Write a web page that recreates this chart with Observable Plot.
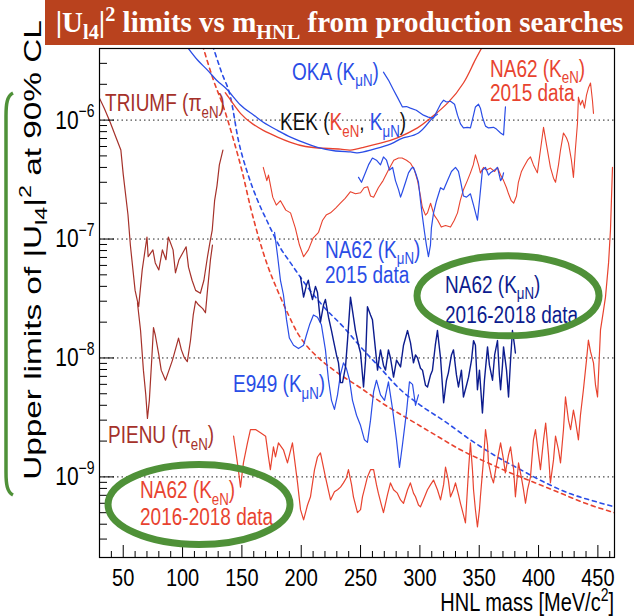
<!DOCTYPE html>
<html><head><meta charset="utf-8">
<script src="https://cdn.jsdelivr.net/npm/d3@7"></script>
<script src="https://cdn.jsdelivr.net/npm/@observablehq/plot@0.6"></script>
<style>
html,body{margin:0;padding:0;background:#fff;}
#wrap{position:relative;width:634px;height:616px;overflow:hidden;}
#title{position:absolute;left:45px;top:0;width:589px;height:45px;background:#b9421e;color:#fff;
 font:bold 29px "Liberation Serif","Times New Roman",serif;text-align:center;line-height:45px;white-space:nowrap;}
#title sub,#title sup{font-size:70%;line-height:0;}
</style></head><body>
<div id="wrap"><div id="chart"></div>
<div id="title">|U<sub>l4</sub>|<sup>2</sup> limits vs m<sub>HNL</sub> from production searches</div></div>
<script>
// ---------- data: [HNL mass (MeV/c^2), upper limit on |U_l4|^2] ----------
const triumf = [[30,1.53e-6],[34,1.26e-6],[39,9.6e-7],[44,7.1e-7],[48,5.6e-7],[50,3.5e-7],[54,1.6e-7],[56,8.9e-8],[60,3.7e-8],[63,2.7e-8],[66,5.5e-8],[70,1.04e-7],[71,7.1e-8],[75,8.1e-8],[77,6.3e-8],[80,5.5e-8],[83,8.1e-8],[86,6.7e-8],[88,1.04e-7],[92,8.1e-8],[94,5.2e-8],[97,6.7e-8],[100,7.6e-8],[103,8.6e-8],[105,5.8e-8],[108,4.5e-8],[111,3.7e-8],[115,3.5e-8],[118,4.5e-8],[121,7.1e-8],[123,9.3e-8],[125,1.19e-7],[127,2.1e-7],[129,2.8e-7],[131,4.2e-7],[134,5.6e-7]];
const pienu = [[62,2.9e-8],[64.6,1.7e-8],[67,7.9e-9],[69,4.9e-9],[70.4,3.1e-9],[72,4.4e-9],[74,9.6e-9],[75.5,1.8e-8],[77,1.56e-8],[80,1.06e-8],[82,7.9e-9],[85.6,6.5e-9],[88,7.6e-9],[91.5,9.6e-9],[95,1.28e-8],[96.6,1.47e-8],[99,1.17e-8],[101.6,1.0e-8],[104,9.3e-9],[106.7,1.41e-8],[109,2.3e-8],[111,3.0e-8],[113.4,2.8e-8],[117,2.6e-8],[119.3,2.4e-8],[121,3.7e-8],[123.5,6.7e-8],[125.2,8.9e-8]];
const na62Ke2015 = [[168,4.0e-7],[171,3.1e-7],[172.4,3.45e-7],[176,2.25e-7],[179,1.93e-7],[182.5,2.1e-7],[187,1.75e-7],[191,1.66e-7],[195,1.24e-7],[198.5,8.9e-8],[202,7.1e-8],[206,8.1e-8],[210,1.02e-7],[214.6,1.14e-7],[218,1.44e-7],[221,1.59e-7],[224.7,1.66e-7],[229,1.82e-7],[233,2.0e-7],[237,2.2e-7],[241.5,2.5e-7],[245.7,2.4e-7],[250,2.45e-7],[253,2.7e-7],[256,2.75e-7],[258.4,2.3e-7],[261,2.25e-7],[265,2.7e-7],[269,3.1e-7],[273.5,3.8e-7],[278,4.6e-7],[282,4.8e-7],[285,4.8e-7],[288.7,4.6e-7],[292,4.35e-7],[295.4,3.8e-7],[298,3.1e-7],[300.5,2.3e-7],[302,1.86e-7],[304.7,1.59e-7],[306.4,1.66e-7],[309,2.0e-7],[312,1.59e-7],[315,1.44e-7],[318,1.26e-7],[321.6,1.3e-7],[325.8,1.26e-7],[329,1.44e-7],[331.7,1.66e-7],[334,2.1e-7],[336.7,2.6e-7],[340,3.1e-7],[342.6,3.6e-7],[345,4.2e-7],[346.8,5.1e-7],[349.4,4.2e-7],[351,3.6e-7],[353.6,4.0e-7],[356,3.8e-7],[359.5,3.95e-7],[363,3.7e-7],[365.4,4.0e-7],[368,3.45e-7],[370.5,3.1e-7],[373,2.7e-7],[374.7,2.4e-7],[377,2.1e-7],[379,2.0e-7],[381.4,2.3e-7],[383,3.0e-7],[385.6,3.7e-7],[387.3,4.0e-7],[390.7,4.6e-7],[393.2,4.9e-7],[395.7,4.2e-7],[399,3.6e-7],[401.6,5.6e-7],[404.2,8.7e-7],[406.7,6.2e-7],[410,4.0e-7],[412.6,3.25e-7],[414.3,3.0e-7],[416.8,4.2e-7],[418.5,5.6e-7],[421,7.8e-7],[423.5,7.1e-7],[425.2,6.4e-7],[427.7,4.6e-7],[429.4,3.3e-7],[431,5.6e-7],[432.8,9.4e-7],[433.6,1.56e-6],[435.3,1.34e-6],[437,1.47e-6],[438.7,1.26e-6],[440.4,1.62e-6],[442,1.86e-6],[443.8,2.05e-6],[445.4,1.47e-6],[446.3,1.14e-6]];
const kekE = [[136,1.7e-6],[138.7,1.56e-6],[148.8,1.14e-6],[159,9.3e-7],[168,8.2e-7],[180,7.2e-7],[191,6.5e-7],[203.6,6.0e-7],[218.8,5.8e-7],[233,5.7e-7],[241.5,5.6e-7],[252.5,5.9e-7],[266.8,6.4e-7],[281,7.1e-7],[298,8.6e-7],[309,1.04e-6],[323.3,1.39e-6],[336.7,2.05e-6],[345.2,3.0e-6],[353,4.2e-6]];
const kekMu = [[103.3,4.2e-6],[112.6,3.2e-6],[121,2.63e-6],[129.4,2.13e-6],[137.9,1.79e-6],[148.8,1.34e-6],[159,1.12e-6],[168,9.6e-7],[180,8.2e-7],[191,7.2e-7],[203.6,6.4e-7],[213.7,5.9e-7],[229,5.5e-7],[241.5,5.4e-7],[247.4,5.3e-7],[258.4,5.6e-7],[266.8,5.9e-7],[277,6.4e-7],[286,7.1e-7],[298.8,7.8e-7],[309,1.0e-6],[314.8,1.12e-6]];
const oka = [[269.3,2.53e-6],[273.5,2.17e-6],[277.8,1.79e-6],[281,1.56e-6],[285.3,1.29e-6],[288.7,1.3e-6],[292,1.26e-6],[297,1.21e-6],[303,1.1e-6],[307,1.06e-6],[311.5,1.04e-6],[314.8,1.21e-6],[317.4,1.36e-6],[320,1.47e-6],[322.4,1.42e-6],[325.8,1.44e-6],[329.2,1.36e-6],[331.7,1.1e-6],[334.2,9.3e-7],[336.7,8.6e-7],[340,8.7e-7],[342.6,8.6e-7],[345.2,1.1e-6],[346.8,1.29e-6],[349.4,1.36e-6],[351,1.26e-6],[352.7,1.06e-6],[355.3,8.9e-7],[357.8,8.6e-7],[362,8.7e-7],[364.5,8.4e-7],[368,7.8e-7],[370.5,7.5e-7],[371.3,1.0e-6],[372.1,1.29e-6]];
const na62Mu2015 = [[248.3,3.3e-7],[250.8,3.0e-7],[253.3,3.45e-7],[256.7,4.2e-7],[260,4.8e-7],[263.4,4.6e-7],[266.8,4.2e-7],[269.3,4.9e-7],[271.9,4.6e-7],[274.4,3.8e-7],[277,4.0e-7],[279.4,3.1e-7],[282,2.6e-7],[283.7,2.25e-7],[285.3,2.5e-7],[287.9,3.0e-7],[290.4,3.6e-7],[293,3.95e-7],[294.6,4.0e-7],[297,3.45e-7],[298.8,3.0e-7],[300.5,2.1e-7],[302.2,1.53e-7],[303.9,1.14e-7],[305.5,8.9e-8],[307.2,7.1e-8],[308.9,8.9e-8],[309.7,1.24e-7],[311.5,1.66e-7],[314,2.1e-7],[317.4,2.7e-7],[320,2.6e-7],[323.3,3.1e-7],[326.6,3.7e-7],[330,4.0e-7],[332.5,3.7e-7],[334.2,3.1e-7],[336.7,2.3e-7],[339.3,2.25e-7],[342.6,2.4e-7],[345.2,1.93e-7],[348.5,1.44e-7],[350.2,2.1e-7],[352.7,3.8e-7],[355.3,4.0e-7],[357.8,3.45e-7],[359.5,3.6e-7],[363,3.8e-7],[365.4,4.0e-7],[368,3.1e-7],[369.6,3.3e-7],[370.5,3.6e-7]];
const e949 = [[177.5,1.14e-7],[180,7.3e-8],[182.5,4.5e-8],[185,3.4e-8],[187.6,2.1e-8],[190,1.47e-8],[193.5,1.28e-8],[197.7,1.2e-8],[202,1.28e-8],[204.4,1.56e-8],[207,1.9e-8],[210.3,2.3e-8],[213.7,2.2e-8],[217,1.9e-8],[220.4,1.17e-8],[223,6.5e-9],[225.5,4.4e-9],[228,3.7e-9],[230.6,4.9e-9],[233,7.2e-9],[235.6,9.1e-9],[238,8.2e-9],[240.7,6.5e-9],[243.2,4.4e-9],[246.6,3.3e-9],[250,2.7e-9],[253.3,2.05e-9],[255.8,1.95e-9],[258.4,3.0e-9],[261,5.2e-9],[263.4,6.5e-9],[266.8,4.9e-9],[270.2,4.4e-9],[273.5,6.3e-9],[277,3.7e-9],[280.3,2.05e-9],[282.8,1.2e-9],[285.3,1.86e-9],[288.7,3.5e-9],[291.2,6.3e-9],[293.8,6.0e-9],[296.3,4.0e-9],[298.8,4.9e-9]];
const na62Mu1618 = [[199.4,4.8e-8],[202,3.25e-8],[204.4,4.1e-8],[206,4.5e-8],[207.8,3.6e-8],[209.5,3.1e-8],[212,4.0e-8],[213.7,3.55e-8],[216.2,2.0e-8],[218.8,2.8e-8],[220.4,3.1e-8],[223,2.2e-8],[225.5,1.7e-8],[227.2,1.4e-8],[229.7,1.06e-8],[231.4,9.1e-9],[233.1,6.2e-9],[234.8,6.2e-9],[237.3,8.4e-9],[239,1.4e-8],[241.5,3.25e-8],[243.2,2.5e-8],[245.7,1.7e-8],[248.3,1.28e-8],[250,1.1e-8],[252.5,5.7e-9],[254.2,9.6e-9],[255.8,2.7e-8],[258.4,2.3e-8],[260,2.1e-8],[262.6,1.17e-8],[264.3,7.9e-9],[266.8,1.17e-8],[269.3,8.7e-9],[271,7.9e-9],[273.5,1.17e-8],[275.2,1.0e-8],[277.8,6.9e-9],[280.3,9.6e-9],[283.7,8.4e-9],[286.2,1.28e-8],[289.6,1.7e-8],[292.1,1.34e-8],[294.6,9.1e-9],[296.3,1.06e-8],[298,1.0e-8],[300.5,8.2e-9],[302.2,7.9e-9],[304.7,5.9e-9],[306.4,5.7e-9],[309,7.2e-9],[310.6,7.9e-9],[313,1.28e-8],[314.8,1.7e-8],[317.4,1.0e-8],[320,4.2e-9],[322.4,6.5e-9],[324,7.5e-9],[326.6,1.06e-8],[328.3,1.17e-8],[330.8,7.2e-9],[332.5,5.7e-9],[335,7.9e-9],[336.7,4.7e-9],[339.3,5.9e-9],[341,6.9e-9],[343.5,9.6e-9],[345.2,1.4e-8],[346.8,1.28e-8],[348.5,5.4e-9],[350.2,7.9e-9],[352.7,3.45e-9],[354.4,6.5e-9],[357,1.24e-8],[358.6,8.7e-9],[361.2,6.5e-9],[363,1.06e-8],[365.4,1.4e-8],[367,7.2e-9],[368,5.4e-9],[369.6,8.7e-9],[370.5,1.24e-8],[373,7.9e-9],[374.7,4.7e-9],[376.4,9.6e-9],[378,1.7e-8],[379.7,1.28e-8],[380.5,1.1e-8]];
const na62Ke1618 = [[143,2.2e-9],[145.4,1.5e-9],[147,1.15e-9],[148.8,8.2e-10],[151.3,1.31e-9],[154.7,1.93e-9],[157.2,2.5e-9],[161.5,2.5e-9],[165.7,2.35e-9],[170,2.2e-9],[172.4,1.47e-9],[174,1.15e-9],[176.6,1.79e-9],[178.3,1.47e-9],[180.8,1.93e-9],[185,1.69e-9],[188.4,1.31e-9],[192.6,1.93e-9],[196.9,8.9e-10],[199.4,5.3e-10],[202,4.35e-10],[205.3,5.8e-10],[207.8,6.8e-10],[211.2,1.15e-9],[213.7,1.47e-9],[216.2,1.59e-9],[220.4,1.0e-9],[224.7,6.4e-10],[228,7.5e-10],[230.6,7.8e-10],[233.1,8.2e-10],[235.6,8.9e-10],[238,9.8e-10],[239.8,1.15e-9],[242.4,8.6e-10],[244,6.8e-10],[247.4,5.0e-10],[250,5.3e-10],[251.6,6.8e-10],[254.2,8.6e-10],[255.8,1.0e-9],[258.4,1.15e-9],[261,1.15e-9],[263.4,8.6e-10],[265,7.3e-10],[267.6,5.8e-10],[269.3,5.0e-10],[272.7,7.1e-10],[275.2,8.9e-10],[277.8,7.8e-10],[281,7.3e-10],[283.7,6.4e-10],[286.2,6.0e-10],[289.6,7.8e-10],[292,8.9e-10],[294.6,7.3e-10],[296.3,6.8e-10],[298.8,5.8e-10],[300.5,5.6e-10],[304,6.8e-10],[306.4,7.8e-10],[309,8.6e-10],[311.5,9.4e-10],[314.8,7.8e-10],[317.4,6.4e-10],[320,8.6e-10],[321.6,1.21e-9],[324,9.4e-10],[325.8,6.8e-10],[328.3,7.8e-10],[330,8.9e-10],[332.5,7.1e-10],[334.2,6.0e-10],[336.7,4.8e-10],[338.4,4.1e-10],[341,1.15e-9],[342.6,1.93e-9],[344.3,1.15e-9],[345.2,7.8e-10],[346.8,5.3e-10],[348.5,3.8e-10],[350.2,5.3e-10],[351,6.8e-10],[353.6,1.39e-9],[355.3,2.5e-9],[357,1.86e-9],[357.8,1.31e-9],[360.3,1.0e-9],[362,8.9e-10],[364.5,1.26e-9],[368,1.93e-9],[370.5,1.39e-9],[372,1.08e-9],[374.7,1.53e-9],[376.4,1.79e-9],[379,1.15e-9],[380.5,6.8e-10],[382.2,1.04e-9],[383.1,1.31e-9],[385.6,9.8e-10],[387.3,7.8e-10],[389,6.0e-10],[390.7,7.8e-10],[393.2,1.0e-9],[395.7,2.05e-9],[397.4,2.5e-9],[400,1.53e-9],[401.6,1.15e-9],[404.2,2.05e-9],[406,2.84e-9],[408.4,1.53e-9],[410,8.9e-10],[412.6,1.39e-9],[414.3,2.2e-9],[416.8,1.69e-9],[418.5,1.31e-9],[421,2.5e-9],[422.7,4.7e-9],[425.2,3.0e-9],[427,2.5e-9],[429.4,3.65e-9],[431,3.0e-9],[433.6,2.05e-9],[435.3,3.3e-9],[437.8,5.4e-9],[440.4,9.6e-9],[442,1.41e-8],[443.8,1.13e-8],[446.3,9.1e-9],[448,5.9e-9],[449.7,4.7e-9],[452.2,1.72e-8],[454.7,2.5e-8],[456.4,3.25e-8],[459,6.3e-8],[460.6,1.19e-7],[461.4,2.1e-7],[462.3,4.0e-7]];
const boundE = [[116.8,4.27e-6],[126,2.17e-6],[134.5,1.29e-6],[143,6.8e-7],[150.5,3.6e-7],[157.2,1.86e-7],[164,1.04e-7],[171.6,6.0e-8],[180,3.7e-8],[188.4,2.4e-8],[196.9,1.62e-8],[205.3,1.24e-8],[213.7,1.02e-8],[230.6,7.5e-9],[250,5.6e-9],[271,4.0e-9],[292,3.0e-9],[313,2.25e-9],[334.2,1.69e-9],[355.3,1.34e-9],[376.4,1.08e-9],[397.4,8.9e-10],[418.5,7.3e-10],[439.5,6.0e-10],[464,5.0e-10]];
const boundMu = [[125.2,4.27e-6],[132.8,2.53e-6],[140.4,1.56e-6],[147,6.8e-7],[154.7,3.6e-7],[163.1,2.13e-7],[171.6,1.39e-7],[182.5,8.4e-8],[191,6.3e-8],[205.3,3.95e-8],[218.8,2.7e-8],[235.6,1.82e-8],[250,1.24e-8],[266.8,8.2e-9],[283.7,5.4e-9],[300.5,4.0e-9],[321.6,2.9e-9],[342.6,2.05e-9],[363.7,1.5e-9],[384.8,1.15e-9],[406,8.9e-10],[427,7.2e-10],[448,6.2e-10],[464,5.6e-10]];

// axis ticks
const xMajor = [50,100,150,200,250,300,350,400,450];
const xMinor = [40,60,70,80,90,110,120,130,140,160,170,180,190,210,220,230,240,260,270,280,290,310,320,330,340,360,370,380,390,410,420,430,440,460];
const yMajor = [1e-9,1e-8,1e-7,1e-6];

// colours
const DARKRED="#a5312a", RED="#e8432f", BLUE="#2a4de6", NAVY="#0c1c8e", GREEN="#4f9138", BLACK="#111";

// annotation texts: [text, colour, "sub"|"sup"]
const labels = [
  {m:35.1, u:1.17e-6, c:DARKRED, parts:[["TRIUMF (π"],["eN",null,"sub"],[")"]]},
  {m:192.6,u:2.17e-6, c:BLUE, parts:[["OKA (K"],["μN",null,"sub"],[")"]]},
  {m:182.5,u:8.2e-7, c:BLACK, parts:[["KEK ("],["K",RED],["eN",RED,"sub"],[", "],["K",BLUE],["μN",BLUE,"sub"],[")"]]},
  {m:359.5,u:2.3e-6, c:RED, parts:[["NA62 (K"],["eN",null,"sub"],[")"]]},
  {m:359.5,u:1.44e-6, c:RED, parts:[["2015 data"]]},
  {m:220.4,u:6.9e-8, c:BLUE, parts:[["NA62 (K"],["μN",null,"sub"],[")"]]},
  {m:220.4,u:4.2e-8, c:BLUE, parts:[["2015 data"]]},
  {m:142.9,u:5.1e-9, c:BLUE, parts:[["E949 (K"],["μN",null,"sub"],[")"]]},
  {m:37.6, u:1.9e-9, c:DARKRED, parts:[["PIENU (π"],["eN",null,"sub"],[")"]]},
  {m:64.6, u:6.6e-10, c:RED, parts:[["NA62 (K"],["eN",null,"sub"],[")"]]},
  {m:64.6, u:3.9e-10, c:RED, parts:[["2016-2018 data"]]},
  {m:321.6,u:3.5e-8, c:NAVY, parts:[["NA62 (K"],["μN",null,"sub"],[")"]]},
  {m:321.6,u:1.95e-8, c:NAVY, parts:[["2016-2018 data"]]}
];
const highlights = [{m:114.3,u:5.8e-10},{m:374.7,u:3.3e-8}];

// ---------- layout ----------
const W=634,H=616,ML=99,MR=20,MT=48,MB=59;
const FH=H-MT-MB, FW=W-ML-MR;
const K=1.25; // vertical stretch of the original canvas text
const FONT='"Liberation Sans", Arial, Helvetica, sans-serif';

const yMinor=[];
for (let e=-10;e<=-6;e++) for (let k=2;k<=9;k++){const v=k*Math.pow(10,e); if(v>2.1e-10&&v<4e-6) yMinor.push(v);}

const series = [
  {d:boundE, c:RED, w:1.6, dash:"4,4", curve:"monotone-x"},
  {d:boundMu, c:BLUE, w:1.6, dash:"4,4", curve:"monotone-x"},
  {d:kekE, c:RED, w:1.3, curve:"natural"},
  {d:kekMu, c:BLUE, w:1.3, curve:"natural"},
  {d:triumf, c:DARKRED, w:1.2},
  {d:pienu, c:DARKRED, w:1.2},
  {d:na62Ke2015, c:RED, w:1.1},
  {d:oka, c:BLUE, w:1.2},
  {d:na62Mu2015, c:BLUE, w:1.2},
  {d:e949, c:BLUE, w:1.2},
  {d:na62Ke1618, c:RED, w:1.2},
  {d:na62Mu1618, c:NAVY, w:1.4}
];

const plot = Plot.plot({
  width:W, height:H, marginLeft:ML, marginRight:MR, marginTop:MT, marginBottom:MB,
  style:{fontFamily:FONT, background:"transparent", color:"#000"},
  x:{domain:[30,464]},
  y:{type:"log", domain:[2.1e-10,4e-6]},
  marks:[
    Plot.ruleY(yMajor,{y:d=>d, stroke:"#222", strokeDasharray:"1.5,3", strokeWidth:1}),
    ...series.map(s=>Plot.line(s.d,{x:d=>d[0], y:d=>d[1], stroke:s.c, strokeWidth:s.w, strokeDasharray:s.dash, curve:s.curve||"linear", clip:true})),
    Plot.ruleX(xMinor,{x:d=>d, insetTop:FH-6, stroke:"#000"}),
    Plot.ruleX(xMajor,{x:d=>d, insetTop:FH-12, stroke:"#000"}),
    Plot.ruleY(yMinor,{y:d=>d, insetRight:FW-8, stroke:"#000"}),
    Plot.ruleY(yMajor,{y:d=>d, insetRight:FW-15, stroke:"#000"}),
    Plot.frame({stroke:"#000", strokeWidth:1.2}),
    Plot.axisX({ticks:xMajor, tickSize:0, tickPadding:11, fontSize:20, label:null}),
    Plot.axisY({ticks:yMajor, tickSize:0, tickPadding:5, fontSize:21, label:null,
      tickFormat:d=>"10^"+Math.round(Math.log10(d))})
  ]
});
document.getElementById("chart").appendChild(plot);

const xs=plot.scale("x"), ys=plot.scale("y");
const svg=d3.select(plot);

function stretch(node,k){
  const t=node.getAttribute("transform")||"";
  node.setAttribute("transform",t+` scale(1,${k})`);
}
// y tick labels as 10^n with superscript
svg.selectAll('g[aria-label="y-axis tick label"] text').each(function(){
  const s=this.textContent; const e=s.split("^")[1];
  if(e===undefined) return;
  const t=d3.select(this); t.text("");
  t.append("tspan").text("10");
  t.append("tspan").attr("dy",-9).attr("font-size",14).text("−"+String(Math.abs(+e)));
  stretch(this,K);
});
svg.selectAll('g[aria-label="x-axis tick label"] text').each(function(){stretch(this,1.2);});

const g=svg.append("g").attr("font-family",FONT).attr("text-anchor","start");
function richText(parent,x,y,fs,color,parts,transformExtra){
  const t=parent.append("text").attr("transform",`translate(${x},${y}) `+(transformExtra||`scale(1,${K})`))
    .attr("font-size",fs).attr("fill",color).attr("text-anchor","start");
  let shift=0;
  for(const [str,col,mode] of parts){
    const target= mode==="sub"?0.28*fs: mode==="sup"?-0.42*fs:0;
    const ts=t.append("tspan").text(str).attr("dy",target-shift);
    if(mode) ts.attr("font-size",fs*0.7);
    if(col) ts.attr("fill",col);
    shift=target;
  }
  return t;
}
for(const L of labels) richText(g,xs.apply(L.m),ys.apply(L.u),19,L.c,L.parts);

// highlight ellipses
for(const h of highlights){
  g.append("ellipse").attr("cx",xs.apply(h.m)).attr("cy",ys.apply(h.u)).attr("rx",91).attr("ry",40)
   .attr("fill","none").attr("stroke",GREEN).attr("stroke-width",7);
}
// axis titles
richText(g,614,611,20,"#000",[["HNL mass [MeV/c"],["2",null,"sup"],["]"]]).attr("text-anchor","end");
richText(g,41,250,23,"#000",[["Upper limits of |U"],["l4",null,"sub"],["|"],["2",null,"sup"],[" at 90% CL"]],`scale(1,1.45) rotate(-90)`)
  .attr("text-anchor","middle");
// green bracket on the left
g.append("path").attr("d","M13,93 C7,96 6,104 6,116 L6,472 C6,484 7,492 13,495")
  .attr("fill","none").attr("stroke",GREEN).attr("stroke-width",3.5);
</script>
</body></html>
